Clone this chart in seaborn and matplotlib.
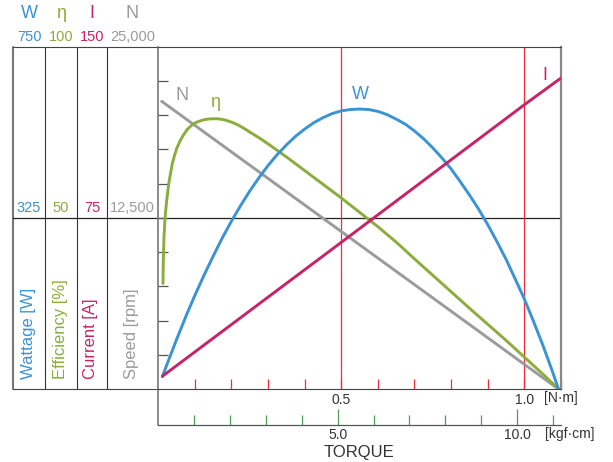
"""
Motor characteristic chart: wattage, efficiency, current and speed vs torque
"""
import matplotlib

matplotlib.use("Agg")
import matplotlib.pyplot as plt
import seaborn as sns

# Values (torque in N·m)
torque_w = [0.012, 0.025, 0.05, 0.075, 0.1, 0.125, 0.15, 0.175, 0.2, 0.225, 0.25,
            0.275, 0.3, 0.325, 0.35, 0.375, 0.4, 0.425, 0.45, 0.475, 0.5, 0.525,
            0.55, 0.575, 0.6, 0.625, 0.65, 0.675, 0.7, 0.725, 0.75, 0.775, 0.8,
            0.825, 0.85, 0.875, 0.9, 0.925, 0.95, 0.975, 1.0, 1.025, 1.05, 1.075,
            1.093]
wattage = [27, 55, 107, 157, 204, 248, 290, 330, 367, 401, 433,
           462, 489, 513, 534, 553, 569, 583, 594, 603, 609, 612,
           613, 612, 608, 601, 591, 580, 565, 548, 528, 506, 482,
           454, 425, 394, 360, 323, 284, 241, 197, 148, 97, 42,
           0]

torque_eta = [0.0136, 0.0145, 0.0164, 0.0191, 0.0237, 0.030, 0.039, 0.045, 0.051,
              0.06, 0.069, 0.08, 0.092, 0.10, 0.11, 0.12, 0.13, 0.14, 0.15, 0.16,
              0.17, 0.18, 0.19, 0.20, 0.21, 0.22, 0.23, 0.24, 0.25, 0.275, 0.3,
              0.325, 0.35, 0.4, 0.45, 0.5, 0.55, 0.6, 0.65, 0.7, 0.75, 0.8, 0.85,
              0.9, 0.95, 1.0, 1.05, 1.093]
efficiency = [30.8, 37.6, 44.4, 49.8, 55.1, 60.4, 65.8, 68.2, 70.2,
              72.4, 74.1, 75.8, 77.0, 77.6, 78.1, 78.45, 78.7, 78.85, 78.9, 78.9,
              78.8, 78.6, 78.3, 77.95, 77.5, 77.0, 76.4, 75.75, 75.05, 73.4, 71.6,
              69.7, 67.8, 63.8, 59.8, 55.8, 51.6, 47.4, 42.9, 38.0, 33.2, 28.4, 23.6,
              18.9, 14.2, 9.3, 4.4, 0]

torque_i = [0.012, 0.5, 1.0, 1.1]
current = [5.6, 64.2, 124.5, 136.2]

torque_n = [0.01, 0.5, 1.0, 1.093]
speed = [21000, 11500, 1800, 0]

# Full scale of each quantity (top of the chart)
W_MAX, ETA_MAX, I_MAX, N_MAX = 750, 100, 150, 25000
header_symbols = ["W", "η", "I", "N"]
header_top = ["750", "100", "150", "25,000"]
header_mid = ["325", "50", "75", "12,500"]
axis_titles = ["Wattage [W]", "Efficiency [%]", "Current [A]", "Speed [rpm]"]

nm_ticks = [0.1, 0.2, 0.3, 0.4, 0.5, 0.6, 0.7, 0.8, 0.9, 1.0, 1.1]
kgf_major = [5, 10]
kgf_minor = [1, 2, 3, 4, 6, 7, 8, 9, 11]
NM_PER_KGFCM = 0.0980665

BLUE = "#3a93d4"
GREEN = "#8aad3b"
MAGENTA = "#c92368"
GRAY = "#9b9b9b"
RED = "#ee2d38"
TICK_GREEN = "#4f9e55"
TEXT = "#333333"

sns.set_style("white")
plt.rcParams["font.family"] = ["Liberation Sans", "DejaVu Sans"]

fig = plt.figure(figsize=(6.13, 4.62), dpi=100)

# Overlay in pixel units for the scale table on the left
bg = fig.add_axes([0, 0, 1, 1])
bg.set_xlim(0, 613)
bg.set_ylim(462, 0)
bg.axis("off")

# Main plot area: left 158 px, right 561 px, top 46.5 px, bottom 389 px
ax = fig.add_axes([158 / 613, 1 - 389 / 462, (561 - 158) / 613, (389 - 46.5) / 462])
ax.set_facecolor("none")
ax.set_xlim(0, 1.1)
ax.set_ylim(0, 1)

# Table lines
col_x = [13.3, 45, 76.7, 107.3]
for i, x in enumerate(col_x):
    bg.plot([x, x], [46.5, 389], color="#777777" if i == 0 else "#333333",
            lw=1.5 if i == 0 else 0.8)
bg.plot([13.3, 158], [46.5, 46.5], color="#444444", lw=0.8)
bg.plot([13.3, 158], [389, 389], color="#444444", lw=0.8)
bg.plot([13.3, 561], [217.75, 217.75], color="#222222", lw=0.9)
bg.plot([158, 158], [389, 425], color="#777777", lw=1.2)

# Header labels and scale values
colors = [BLUE, GREEN, MAGENTA, GRAY]
centers = [29, 61, 92, 132.5]
for sym, top, mid, title, c, x in zip(header_symbols, header_top, header_mid,
                                      axis_titles, colors, centers):
    bg.text(x, 14, sym, color=c, fontsize=13, ha="center", va="center")
    bg.text(x, 37, top, color=c, fontsize=10.5, ha="center", va="center")
    bg.text(x, 208, mid, color=c, fontsize=10.5, ha="center", va="center")
    bg.text(x - 1, 379, title, color=c, fontsize=12, rotation=90,
            ha="center", va="bottom")


# One hidden y-scale per quantity, sharing the torque axis
def curve_axis(top):
    t = ax.twinx()
    t.set_ylim(0, top)
    t.axis("off")
    return t


ax_n = curve_axis(N_MAX)
ax_eta = curve_axis(ETA_MAX)
ax_w = curve_axis(W_MAX)
ax_i = curve_axis(I_MAX)

sns.lineplot(x=torque_n, y=speed, ax=ax_n, color=GRAY, lw=2.1)
sns.lineplot(x=torque_eta, y=efficiency, ax=ax_eta, color=GREEN, lw=2.1)
sns.lineplot(x=torque_w, y=wattage, ax=ax_w, color=BLUE, lw=2.1)
sns.lineplot(x=torque_i, y=current, ax=ax_i, color=MAGENTA, lw=2.1)

# Curve labels
ax.text(0.0655, 0.857, "N", color=GRAY, fontsize=13, ha="center", va="center")
ax.text(0.157, 0.836, "η", color=GREEN, fontsize=13, ha="center", va="center")
ax.text(0.553, 0.859, "W", color=BLUE, fontsize=13, ha="center", va="center")
ax.text(1.056, 0.915, "I", color=MAGENTA, fontsize=13, ha="center", va="center")

# Reference lines at 0.5 and 1.0 N·m
for t in (0.5, 1.0):
    ax.axvline(t, color=RED, lw=0.9, zorder=0)

# Frame
ax.spines["left"].set_color("#777777")
ax.spines["left"].set_linewidth(1.2)
ax.spines["top"].set_color("#444444")
ax.spines["top"].set_linewidth(0.8)
ax.spines["right"].set_color("#888888")
ax.spines["right"].set_linewidth(1.6)
ax.spines["bottom"].set_color("#444444")
ax.spines["bottom"].set_linewidth(0.8)

ax.set_yticks([0.1, 0.2, 0.3, 0.4, 0.5, 0.6, 0.7, 0.8, 0.9])
ax.tick_params(axis="y", direction="in", length=7.5, width=0.9, color="#555555",
               labelleft=False, left=True)

ax.set_xticks(nm_ticks, labels=[f"{t:.1f}" if t in (0.5, 1.0) else "" for t in nm_ticks])
ax.tick_params(axis="x", direction="in", length=7.2, width=0.9, color=RED,
               labelsize=10, labelcolor=TEXT, pad=3, bottom=True)

# Second torque scale in kgf·cm
sec = ax.secondary_xaxis(-36 / 342.5, functions=(lambda t: t / NM_PER_KGFCM,
                                                 lambda k: k * NM_PER_KGFCM))
sec.set_xticks(kgf_major, labels=[f"{k:.1f}" for k in kgf_major])
sec.set_xticks(kgf_minor, minor=True)
sec.tick_params(which="major", direction="in", length=11.5, width=0.9,
                color=TICK_GREEN, labelsize=10, labelcolor=TEXT, pad=2)
sec.tick_params(which="minor", direction="in", length=7.2, width=0.9, color=TICK_GREEN)
sec.spines["bottom"].set_color("#555555")
sec.spines["bottom"].set_linewidth(0.9)

bg.text(561, 398, "[N·m]", color=TEXT, fontsize=10, ha="center", va="center")
bg.text(570, 434, "[kgf·cm]", color=TEXT, fontsize=10, ha="center", va="center")
bg.text(359, 453, "TORQUE", color=TEXT, fontsize=12, ha="center", va="center")

plt.savefig("out.png", dpi=100)
